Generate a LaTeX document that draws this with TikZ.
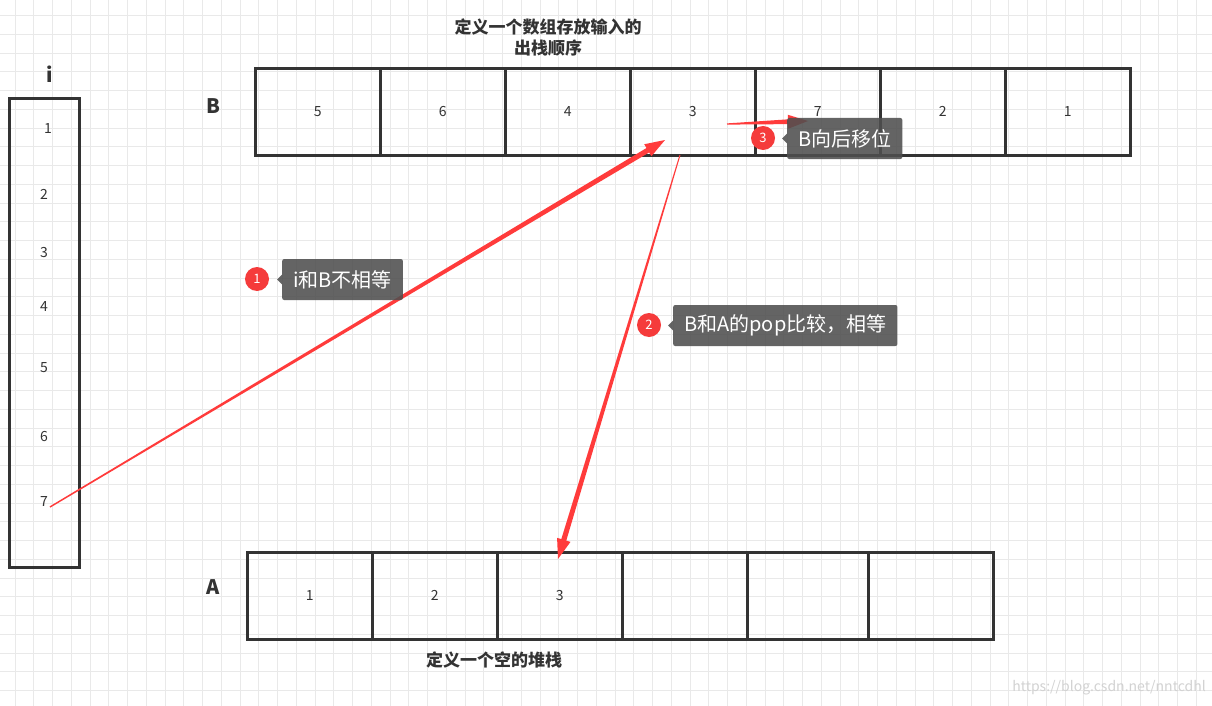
\documentclass[tikz,border=0pt]{standalone}
\usepackage{fontspec}
\setmainfont{Noto Sans CJK SC}
\usetikzlibrary{calc}
\definecolor{gridc}{HTML}{E9E9E9}
\definecolor{edge}{HTML}{333333}
\definecolor{arrred}{HTML}{FF3B3B}
\definecolor{badge}{HTML}{F53B3B}
\definecolor{tip}{HTML}{4F4F4F}
\definecolor{txt}{HTML}{333333}
\tikzset{
  cell/.style={draw=edge,line width=2.6pt,minimum width=125pt,minimum height=87pt,inner sep=0pt,font=\fontsize{14}{14}\selectfont,text=txt},
  num/.style={font=\fontsize{14}{14}\selectfont,text=txt,inner sep=0pt},
  lbl/.style={font=\bfseries\fontsize{20}{20}\selectfont,text=txt,inner sep=0pt},
  title/.style={font=\bfseries\fontsize{17}{21}\selectfont,text=txt,align=center,inner sep=0pt},
  badgec/.style={circle,fill=badge,text=white,minimum size=24pt,inner sep=0pt,font=\fontsize{13}{13}\selectfont},
  tipbox/.style={fill=tip,fill opacity=0.88,text opacity=1,text=white,rounded corners=2pt,anchor=west,inner xsep=11pt,minimum height=41pt,font=\fontsize{20}{20}\selectfont},
}
\newcommand{\taper}[6]{% start, end, w0, w1, headlen, headhalfwidth
  \fill[arrred] ($(#1)!#3!90:(#2)$) -- ($($(#2)!#5!(#1)$)!#4!-90:(#1)$)
    -- ($($(#2)!#5!(#1)$)!#6!-90:(#1)$) -- (#2)
    -- ($($(#2)!#5!(#1)$)!#6!90:(#1)$) -- ($($(#2)!#5!(#1)$)!#4!90:(#1)$)
    -- ($(#1)!#3!-90:(#2)$) -- cycle;}
\begin{document}
\begin{tikzpicture}[x=1pt,y=-1pt]
\useasboundingbox (0,0) rectangle (1212,706);
\fill[white] (0,0) rectangle (1212,706);
% grid
\foreach \k in {0,...,64} {\draw[gridc,line width=0.8pt] ({15+18.75*\k},0) -- ({15+18.75*\k},706);}
\foreach \k in {-1,...,37} {\draw[gridc,line width=0.8pt] (0,{15.5+18.75*\k}) -- (1212,{15.5+18.75*\k});}
% i column
\node[lbl] (ilbl) at (50,74) {i};
\node[draw=edge,line width=2.6pt,minimum width=70pt,minimum height=469pt,inner sep=0pt,anchor=north west] (ibox) at (8,97) {};
\node[num] (i1) at (48,129) {1};
\node[num] (i2) at (44,194) {2};
\node[num] (i3) at (44,253) {3};
\node[num] (i4) at (44,307) {4};
\node[num] (i5) at (44,368) {5};
\node[num] (i6) at (44,437) {6};
\node[num] (i7) at (44,502) {7};
\coordinate (i7tip) at (50,507);
% B array
\node[lbl] (Blbl) at (213,106) {B};
\foreach \v [count=\c] in {5,6,4,3,7,2,1} {
  \node[cell,anchor=north west] (b\c) at ({254+125*(\c-1)},67) {\v};
}
\node[title] (btitle) at (548,37) {定义一个数组存放输入的\\出栈顺序};
% A array
\node[lbl] (Albl) at (213,587) {A};
\foreach \v [count=\c] in {1,2,3,{}} {
  \node[cell,anchor=north west] (a\c) at ({246+125*(\c-1)},551) {\v};
}
\node[cell,anchor=north west,minimum width=121pt] (a5) at (746,551) {};
\node[cell,anchor=north west,minimum width=125pt] (a6) at (867,551) {};
\node[title] (atitle) at (494,660) {定义一个空的堆栈};
% arrows
\coordinate (e1) at (665,140);
\coordinate (s2) at (680,155);
\coordinate (e2) at (558,559);
\coordinate (s3) at (727,124);
\coordinate (e3) at (808,121);
\taper{i7tip}{e1}{0.7pt}{2.6pt}{20pt}{7pt}
\taper{s2}{e2}{0.5pt}{2.6pt}{20pt}{7pt}
\taper{s3}{e3}{0.6pt}{2.4pt}{20pt}{7pt}
% callouts
\node[badgec] (c1) at (257,279) {1};
\node[tipbox] (t1) at (282,279.5) {i和B不相等};
\fill[tip,fill opacity=0.88] ($(t1.west)+(0,-5)$) -- ($(t1.west)+(-5,0)$) -- ($(t1.west)+(0,5)$) -- cycle;
\node[badgec] (c2) at (649,325) {2};
\node[tipbox] (t2) at (673,325.5) {B和A的pop比较，相等};
\fill[tip,fill opacity=0.88] ($(t2.west)+(0,-5)$) -- ($(t2.west)+(-5,0)$) -- ($(t2.west)+(0,5)$) -- cycle;
\node[badgec] (c3) at (763,138) {3};
\node[tipbox] (t3) at (787,138.5) {B向后移位};
\fill[tip,fill opacity=0.88] ($(t3.west)+(0,-5)$) -- ($(t3.west)+(-5,0)$) -- ($(t3.west)+(0,5)$) -- cycle;
% watermark
\node[text=gray!35,font=\fontsize{14}{14}\selectfont,anchor=east,inner sep=0pt] (wm) at (1206,688) {https://blog.csdn.net/nntcdhl};
\end{tikzpicture}
\end{document}
